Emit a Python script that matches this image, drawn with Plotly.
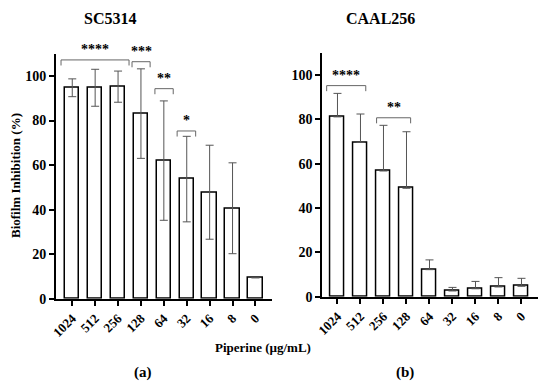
import plotly.graph_objects as go

categories = ["1024", "512", "256", "128", "64", "32", "16", "8", "0"]

sc5314_mean = [94.7, 94.7, 95.2, 83.1, 62.0, 53.7, 47.8, 40.6, 9.4]
sc5314_sd = [4.0, 8.3, 7.0, 20.1, 26.8, 19.2, 21.1, 20.4, 0.0]

caal256_mean = [81.1, 69.6, 56.7, 48.9, 12.2, 2.6, 3.6, 4.4, 4.7]
caal256_sd = [10.6, 12.8, 20.6, 25.5, 4.4, 1.6, 3.3, 4.2, 3.6]

y_ticks = [0, 20, 40, 60, 80, 100]

# significance brackets: (x0, x1, y, label)
sc5314_brackets = [(-0.49, 2.48, 107.2, "****"), (2.61, 3.40, 106.4, "***"),
                   (3.61, 4.41, 94.3, "**"), (4.58, 5.39, 75.3, "*")]
caal256_brackets = [(-0.47, 1.23, 95.2, "****"), (1.70, 3.18, 80.7, "**")]

FONT = "Liberation Serif"
idx = list(range(len(categories)))

fig = go.Figure()
fig.add_trace(go.Bar(
    x=idx, y=sc5314_mean, width=0.63, xaxis="x", yaxis="y",
    marker=dict(color="white", line=dict(color="black", width=1.5)),
    error_y=dict(type="data", array=sc5314_sd, visible=True, color="#555555",
                 thickness=1, width=4),
    showlegend=False))
fig.add_trace(go.Bar(
    x=idx, y=caal256_mean, width=0.63, xaxis="x2", yaxis="y2",
    marker=dict(color="white", line=dict(color="black", width=1.5)),
    error_y=dict(type="data", symmetric=False, array=caal256_sd,
                 arrayminus=[0] * len(caal256_sd), visible=True,
                 color="#555555", thickness=1, width=4),
    showlegend=False))

xcommon = dict(tickmode="array", tickvals=idx, ticktext=categories, tickangle=-45,
               showline=True, linecolor="black", linewidth=2, ticks="outside",
               ticklen=5, tickwidth=1.5, tickcolor="black", showgrid=False,
               zeroline=False, automargin=False,
               tickfont=dict(family=FONT, size=13, color="black", weight="bold"))
ycommon = dict(range=[0, 110], tickvals=y_ticks, showline=True, linecolor="black",
               linewidth=2, ticks="outside", ticklen=5, tickwidth=1.5,
               tickcolor="black", showgrid=False, zeroline=False, automargin=False,
               tickfont=dict(family=FONT, size=14, color="black", weight="bold"))

YD1 = [0.2262, 0.8609]
YD2 = [0.2313, 0.8632]
fig.update_layout(
    template="none",
    width=550, height=386, margin=dict(l=0, r=0, t=0, b=0),
    plot_bgcolor="white", paper_bgcolor="white",
    font=dict(family=FONT, color="black"),
    xaxis=dict(domain=[0.1018, 0.494], range=[-0.71, 8.71], anchor="y", **xcommon),
    yaxis=dict(domain=YD1, anchor="x", **ycommon),
    xaxis2=dict(domain=[0.586, 0.9787], range=[-0.66, 8.73], anchor="y2", **xcommon),
    yaxis2=dict(domain=YD2, anchor="x2", **ycommon),
    bargap=0,
)

def add_brackets(brs, xr, yr):
    for x0, x1, y, lab in brs:
        fig.add_shape(type="path", xref=xr, yref=yr,
                      path=f"M {x0} {y-2.5} L {x0} {y} L {x1} {y} L {x1} {y-2.5}",
                      line=dict(color="#666666", width=1))
        fig.add_annotation(x=(x0 + x1) / 2, y=y, xref=xr, yref=yr, text="<b>" + lab + "</b>",
                           showarrow=False, yanchor="bottom", yshift=1,
                           font=dict(family=FONT, size=14, color="#000000"))

add_brackets(sc5314_brackets, "x", "y")
add_brackets(caal256_brackets, "x2", "y2")

def txt(x, y, s, size, angle=0):
    fig.add_annotation(x=x / 550, y=1 - y / 386, xref="paper", yref="paper",
                       text=s, showarrow=False, textangle=angle,
                       xanchor="center", yanchor="middle",
                       font=dict(family=FONT, size=size, color="black"))

txt(110, 19, "<b>SC5314</b>", 16)
txt(380, 19, "<b>CAAL256</b>", 16)
txt(15, 176, "<b>Biofilm Inhibition (%)</b>", 13, -90)
txt(263, 347, "<b>Piperine (µg/mL)</b>", 13)
txt(143, 372, "<b>(a)</b>", 15)
txt(405, 372, "<b>(b)</b>", 15)

fig.write_html("out.html", config={"displayModeBar": False},
               post_script="document.body.style.margin='0';")
